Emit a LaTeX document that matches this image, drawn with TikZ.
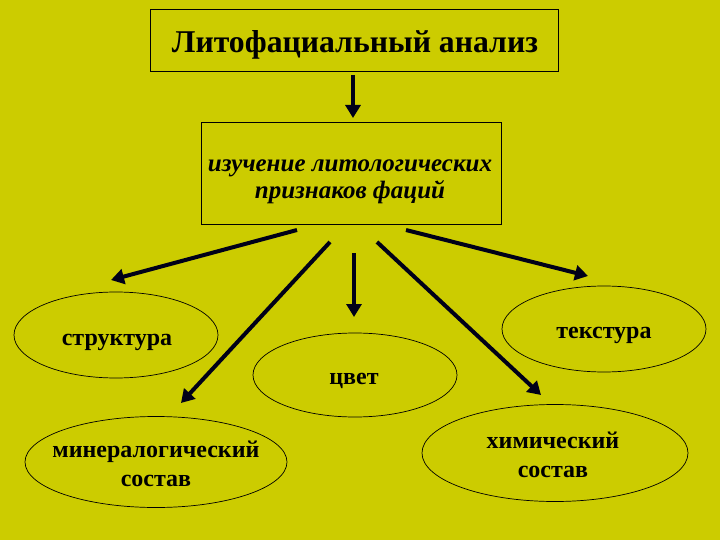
\documentclass[tikz,border=0pt]{standalone}
\usepackage{fontspec}
\setmainfont{Liberation Serif}
\usetikzlibrary{shapes.geometric, arrows.meta}
\definecolor{slidebg}{HTML}{CCCC00}
\definecolor{arrowink}{HTML}{000018}

\begin{document}
\begin{tikzpicture}[x=1pt, y=-1pt,
    framebox/.style={draw, line width=0.8pt, inner sep=0pt},
    oval/.style={ellipse, draw, line width=0.7pt, inner sep=0pt},
    ovaltext/.style={anchor=base, inner sep=0pt, align=center,
                     font=\fontsize{24}{29}\selectfont\bfseries},
    bigarrow/.style={draw=arrowink, line width=4pt, -{Triangle[length=13pt, width=15pt]}}]
  \fill[slidebg] (0,0) rectangle (720,540);
  \useasboundingbox (0,0) rectangle (720,540);

  % boxes
  \node[framebox, minimum width=408pt, minimum height=62pt] (title) at (354,40) {};
  \node[anchor=base, inner sep=0pt, font=\fontsize{31.7}{38}\selectfont\bfseries]
       (title-text) at (355,53) {Литофациальный анализ};
  \node[framebox, minimum width=300pt, minimum height=102pt] (study) at (351,173) {};
  \node[anchor=base, inner sep=0pt, align=center,
        font=\fontsize{25}{27}\selectfont\bfseries\itshape] (study-text) at (350,199)
       {изучение литологических\\признаков фаций};

  % ellipses
  \node[oval, minimum width=204pt, minimum height=86pt] (structure) at (116,335) {};
  \node[ovaltext] (structure-text) at (117,345) {структура};
  \node[oval, minimum width=204pt, minimum height=86pt] (texture) at (604,329) {};
  \node[ovaltext] (texture-text) at (604,338) {текстура};
  \node[oval, minimum width=204pt, minimum height=84pt] (colour) at (355,375) {};
  \node[ovaltext] (colour-text) at (354,384) {цвет};
  \node[oval, minimum width=262pt, minimum height=91pt] (mineral) at (156,462) {};
  \node[ovaltext] (mineral-text) at (156,486) {минералогический\\состав};
  \node[oval, minimum width=266pt, minimum height=97pt] (chemical) at (555,453) {};
  \node[ovaltext] (chemical-text) at (553,477) {химический\\состав};

  % arrow ends
  \coordinate (t0) at (353,75);
  \coordinate (t1) at (353,118);
  \coordinate (a0) at (297,230);
  \coordinate (a1) at (111,280);
  \coordinate (b0) at (330,242);
  \coordinate (b1) at (181,403);
  \coordinate (c0) at (354,253);
  \coordinate (c1) at (354,317);
  \coordinate (d0) at (377,242);
  \coordinate (d1) at (541,395);
  \coordinate (e0) at (406,230);
  \coordinate (e1) at (588,276);

  \draw[bigarrow] (t0) -- (t1);
  \draw[bigarrow] (a0) -- (a1);
  \draw[bigarrow] (b0) -- (b1);
  \draw[bigarrow] (c0) -- (c1);
  \draw[bigarrow] (d0) -- (d1);
  \draw[bigarrow] (e0) -- (e1);
\end{tikzpicture}
\end{document}
